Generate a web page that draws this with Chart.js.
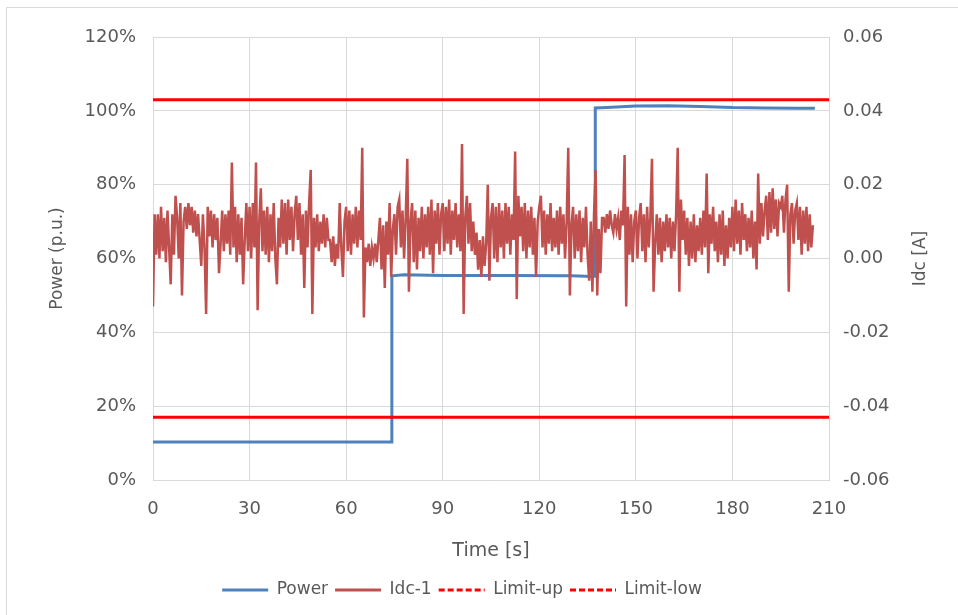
<!DOCTYPE html>
<html>
<head>
<meta charset="utf-8">
<script src="https://cdn.jsdelivr.net/npm/chart.js@4.4.1/dist/chart.umd.min.js"></script>
<style>
  html, body { margin: 0; padding: 0; background: #fff; }
  #wrap { width: 958px; height: 615px; position: relative; }
</style>
</head>
<body>
<div id="wrap"><canvas id="chart" width="958" height="615"></canvas></div>
<script>
// 시간축 눈금
const timeTicks = [0, 30, 60, 90, 120, 150, 180, 210];

// Power (p.u., %) 계단
const powerTimes  = [0, 74.2, 74.2, 78, 90, 110, 130, 136.5, 137.4, 137.4, 141, 150, 160, 170, 180, 190, 200, 205.6];
const powerValues = [10.3, 10.3, 55.3, 55.6, 55.4, 55.4, 55.3, 55.1, 55.2, 100.8, 100.9, 101.3, 101.4, 101.2, 100.9, 100.8, 100.7, 100.7];

// 한계선 (%)
const limitTimes = [0, 210];
const limitUp  = [103, 103];
const limitLow = [17, 17];

// Idc-1 샘플 (mA, 0.5 s 간격)
const idcStep = 0.5;
const idcMilliAmp = [
  -13, 12, 1, 12, 0, 14, 2, 11, -1, 13,
  3, -7, 12, 1, 17, 11, 0, 15, -10, 10,
  14, 8, 15, 9, 14, 7, 13, 6, 12, 5,
  -2, 12, 3, -15, 14, 6, 13, 3, 12, 5,
  11, -4, 4, 13, 2, 12, 4, 13, 1, 26,
  3, 14, -1, 12, 1, 11, -7, 5, 15, 2,
  14, 0, 15, 3, 26, -14, 10, 19, 2, 13,
  1, 14, -1, 12, 2, 15, 0, -7, 11, 3,
  16, 4, 15, 1, 16, 5, 14, 2, 12, 17,
  5, 15, 1, 12, -8, 13, 3, 15, 24, -15,
  11, 3, 12, 2, 10, 4, 12, 3, 11, 5,
  5, -1, 6, -2, 4, 0, 15, 3, -5, 10,
  14, 2, 13, 1, 12, 4, 14, 3, 13, 5,
  30, -16, 3, -1, 4, -2, 3, 0, 4, -1,
  5, 11, -3, 9, -8, 10, 1, 15, -5, 8,
  12, 1, 14, 16, 3, 13, 0, 11, 27, -9,
  10, 15, -1, 13, -3, 11, 2, 14, 0, 12,
  3, 14, 1, 16, -4, 13, 4, 15, 1, 12,
  15, 2, 14, 4, 16, 1, 13, 5, 15, 3,
  12, 2, 31, -15, 11, 17, 4, 15, 2, 10,
  1, 7, -3, 5, -5, 6, -2, 4, 20, -6,
  11, 15, 0, 14, -1, 15, 3, 13, 0, 15,
  4, 14, 1, 12, 5, 29, -11, 17, 6, 14,
  2, 15, 0, 13, 3, 14, 1, 11, -5, 10,
  14, 17, 3, 13, 1, 12, 4, 15, 2, 11,
  3, 13, 1, 14, 4, 12, 0, 10, 30, -10,
  9, 14, 0, 12, 2, 13, -1, 11, 3, 14,
  1, -6, 10, -9, 12, 24, -10, 8, -4, 11,
  11, 7, 12, 8, 13, 9, 7, 12, 8, 11,
  5, 13, 9, 28, -13, 14, 1, 12, -1, 10,
  13, 0, 11, 15, 2, 12, -1, 14, 3, 11,
  27, -9, 4, 12, 1, 11, -1, 10, 2, 12,
  3, 11, 0, 10, 2, 12, 30, -9, 16, 5,
  13, 1, 11, -2, 10, 0, 12, -1, 9, 2,
  11, 1, 13, 3, 23, -4, 12, 4, 14, 2,
  10, -1, 12, 1, 13, -2, 9, 0, 11, 3,
  14, 2, 16, 4, 13, 1, 15, 5, 12, 2,
  11, 3, 13, 0, 10, -3, 23, 4, 15, 6,
  13, 17, 5, 18, 7, 19, 8, 16, 6, 15,
  14, 17, 7, 16, 20, -9, 12, 15, 4, 13,
  15, 5, 14, 1, 13, 4, 14, 2, 12, 3, 9
];

const FONT = "'DejaVu Sans'";
const TEXT = "#595959";
const GRID = "#D9D9D9";

function toPoints(xs, ys) {
  return xs.map((x, i) => ({ x: x, y: ys[i] }));
}

const idcPoints = idcMilliAmp.map((v, i) => ({ x: i * idcStep, y: v / 1000 }));

// 바깥 테두리 + 오른쪽 축 제목
const framePlugin = {
  id: "frame",
  beforeDraw(chart) {
    const ctx = chart.ctx;
    ctx.save();
    ctx.strokeStyle = GRID;
    ctx.lineWidth = 1;
    ctx.beginPath();
    ctx.moveTo(6.5, 615);
    ctx.lineTo(6.5, 7.5);
    ctx.lineTo(958, 7.5);
    ctx.stroke();
    ctx.restore();
  },
  afterDraw(chart) {
    const ctx = chart.ctx;
    const area = chart.chartArea;
    ctx.save();
    ctx.translate(921, (area.top + area.bottom) / 2);
    ctx.rotate(-Math.PI / 2);
    ctx.font = "17px " + FONT;
    ctx.fillStyle = TEXT;
    ctx.textAlign = "center";
    ctx.textBaseline = "middle";
    ctx.fillText("Idc [A]", 0, 0);
    ctx.restore();
  },
};

const ctx = document.getElementById("chart").getContext("2d");
const chart = new Chart(ctx, {
  type: "scatter",
  data: {
    datasets: [
      {
        label: "Power",
        data: toPoints(powerTimes, powerValues),
        showLine: true,
        borderColor: "#4F81BD",
        borderWidth: 3,
        pointRadius: 0,
        yAxisID: "y",
        order: 4,
      },
      {
        label: "Idc-1",
        data: idcPoints,
        showLine: true,
        borderColor: "#C0504D",
        borderWidth: 2.5,
        pointRadius: 0,
        yAxisID: "y1",
        order: 3,
      },
      {
        label: "Limit-up",
        data: toPoints(limitTimes, limitUp),
        showLine: true,
        borderColor: "#FF0000",
        borderWidth: 3,
        pointRadius: 0,
        yAxisID: "y",
        order: 1,
      },
      {
        label: "Limit-low",
        data: toPoints(limitTimes, limitLow),
        showLine: true,
        borderColor: "#FF0000",
        borderWidth: 3,
        pointRadius: 0,
        yAxisID: "y",
        order: 2,
      },
    ],
  },
  options: {
    responsive: false,
    animation: false,
    layout: { padding: { left: 0, right: 34, top: 37, bottom: 6.5 } },
    plugins: {
      tooltip: { enabled: false },
      legend: {
        display: true,
        position: "bottom",
        labels: {
          font: { family: FONT, size: 17 },
          color: TEXT,
          padding: 7,
          usePointStyle: true,
          pointStyle: "line",
          pointStyleWidth: 46,
          sort: (a, b) => a.datasetIndex - b.datasetIndex,
          generateLabels(chart) {
            const items = Chart.defaults.plugins.legend.labels.generateLabels(chart);
            items.forEach((it) => {
              const ds = chart.data.datasets[it.datasetIndex];
              it.pointStyle = "line";
              it.strokeStyle = ds.borderColor;
              it.lineWidth = 3;
              it.lineDash = ds.label.startsWith("Limit") ? [6, 3] : [];
            });
            return items;
          },
        },
      },
    },
    scales: {
      x: {
        type: "linear",
        min: 0,
        max: 210,
        afterBuildTicks(scale) {
          scale.ticks = timeTicks.map((v) => ({ value: v }));
        },
        afterFit(scale) { scale.height = 94.5; },
        grid: { color: GRID, drawTicks: false },
        border: { color: GRID },
        ticks: { color: TEXT, font: { family: FONT, size: 18 }, padding: 19 },
        title: {
          display: true,
          text: "Time [s]",
          color: TEXT,
          font: { family: FONT, size: 19 },
          padding: { top: 0, bottom: 12.1 },
        },
      },
      y: {
        position: "left",
        min: 0,
        max: 120,
        afterFit(scale) { scale.width = 153; },
        grid: { color: GRID, drawTicks: false },
        border: { color: GRID },
        ticks: {
          stepSize: 20,
          color: TEXT,
          font: { family: FONT, size: 18 },
          padding: 17,
          callback: (v) => v + "%",
        },
        title: {
          display: true,
          text: "Power (p.u.)",
          color: TEXT,
          font: { family: FONT, size: 17 },
          padding: { top: 47, bottom: 0 },
        },
      },
      y1: {
        position: "right",
        min: -0.06,
        max: 0.06,
        afterFit(scale) { scale.width = 95; },
        grid: { display: false, drawTicks: false },
        border: { color: GRID },
        ticks: {
          stepSize: 0.02,
          color: TEXT,
          font: { family: FONT, size: 18 },
          padding: 14,
          callback: (v) => (Math.abs(v) < 1e-9 ? "0.00" : v.toFixed(2)),
        },
      },
    },
  },
  plugins: [framePlugin],
});
</script>
</body>
</html>
